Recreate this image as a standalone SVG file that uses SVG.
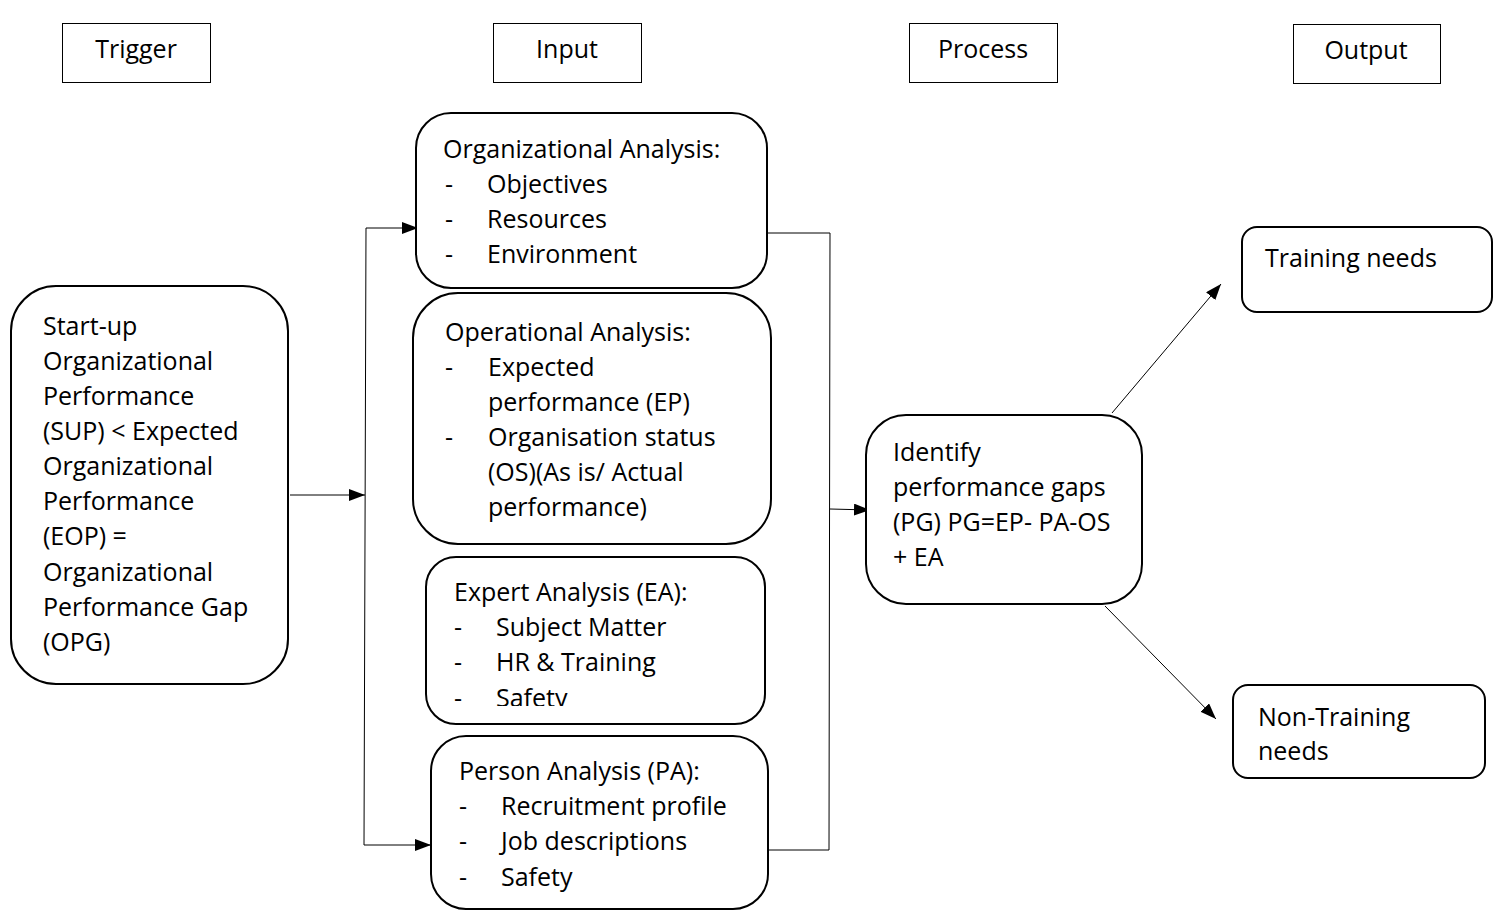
<svg xmlns="http://www.w3.org/2000/svg" width="1494" height="916" viewBox="0 0 1494 916">
<style>
text{font-family:"Open Sans",Lato,"Liberation Sans",sans-serif;font-size:25px;fill:#000}
.hdr{fill:#fff;stroke:#000;stroke-width:1}
.node{fill:#fff;stroke:#000;stroke-width:2}
.c{fill:none;stroke:#000;stroke-width:1}
.ctr{text-anchor:middle}
</style>
<defs>
<marker id="ah" markerWidth="16" markerHeight="12" refX="16" refY="6" orient="auto" markerUnits="userSpaceOnUse">
<path d="M0,0 L16,6 L0,12 Z" fill="#000"/>
</marker>
<clipPath id="clipEA"><rect x="426" y="557" width="340" height="149"/></clipPath>
</defs>
<rect width="1494" height="916" fill="#fff"/>

<g id="hdr-trigger"><rect class="hdr" x="62.5" y="23.5" width="148" height="59"/><text class="ctr" x="136" y="58">Trigger</text></g>
<g id="hdr-input"><rect class="hdr" x="493.5" y="23.5" width="148" height="59"/><text class="ctr" x="567" y="58">Input</text></g>
<g id="hdr-process"><rect class="hdr" x="909.5" y="23.5" width="148" height="59"/><text class="ctr" x="983" y="58">Process</text></g>
<g id="hdr-output"><rect class="hdr" x="1293.5" y="24.5" width="147" height="59"/><text class="ctr" x="1366" y="59">Output</text></g>

<g id="connectors">
<line class="c" x1="290" y1="495" x2="365" y2="495" marker-end="url(#ah)"/>
<line class="c" x1="366" y1="228" x2="364" y2="845"/>
<line class="c" x1="366" y1="228" x2="418" y2="228" marker-end="url(#ah)"/>
<line class="c" x1="364" y1="845" x2="431" y2="845" marker-end="url(#ah)"/>
<polyline class="c" points="767,233 830,233 829,850 768,850"/>
<line class="c" x1="830" y1="509" x2="870" y2="510" marker-end="url(#ah)"/>
<line class="c" x1="1112" y1="413" x2="1221" y2="284" marker-end="url(#ah)"/>
<line class="c" x1="1105" y1="606" x2="1216" y2="719" marker-end="url(#ah)"/>
</g>

<g id="trigger">
<rect class="node" x="11" y="286" width="277" height="398" rx="45"/>
<text x="43" y="335">Start-up</text>
<text x="43" y="370">Organizational</text>
<text x="43" y="405">Performance</text>
<text x="43" y="440">(SUP) &lt; Expected</text>
<text x="43" y="475">Organizational</text>
<text x="43" y="510">Performance</text>
<text x="43" y="545">(EOP) =</text>
<text x="43" y="581">Organizational</text>
<text x="43" y="616">Performance Gap</text>
<text x="43" y="651">(OPG)</text>
</g>

<g id="org-analysis">
<rect class="node" x="416" y="113" width="351" height="175" rx="35"/>
<text x="443" y="158">Organizational Analysis:</text>
<text x="445" y="193">-</text><text x="487" y="193">Objectives</text>
<text x="445" y="228">-</text><text x="487" y="228">Resources</text>
<text x="445" y="263">-</text><text x="487" y="263">Environment</text>
</g>

<g id="op-analysis">
<rect class="node" x="413" y="293" width="358" height="251" rx="45"/>
<text x="445" y="341">Operational Analysis:</text>
<text x="445" y="376">-</text><text x="488" y="376">Expected</text>
<text x="488" y="411">performance (EP)</text>
<text x="445" y="446">-</text><text x="488" y="446">Organisation status</text>
<text x="488" y="481">(OS)(As is/ Actual</text>
<text x="488" y="516">performance)</text>
</g>

<g id="expert-analysis">
<rect class="node" x="426" y="557" width="339" height="167" rx="30"/>
<g clip-path="url(#clipEA)">
<text x="454" y="601">Expert Analysis (EA):</text>
<text x="454" y="636">-</text><text x="496" y="636">Subject Matter</text>
<text x="454" y="671">-</text><text x="496" y="671">HR &amp; Training</text>
<text x="454" y="707">-</text><text x="496" y="707">Safety</text>
</g>
</g>

<g id="person-analysis">
<rect class="node" x="431" y="736" width="337" height="173" rx="35"/>
<text x="459" y="780">Person Analysis (PA):</text>
<text x="459" y="815">-</text><text x="501" y="815">Recruitment profile</text>
<text x="459" y="850">-</text><text x="501" y="850">Job descriptions</text>
<text x="459" y="886">-</text><text x="501" y="886">Safety</text>
</g>

<g id="process">
<rect class="node" x="866" y="415" width="276" height="189" rx="40"/>
<text x="893" y="461">Identify</text>
<text x="893" y="496">performance gaps</text>
<text x="893" y="531">(PG) PG=EP- PA-OS</text>
<text x="893" y="566">+ EA</text>
</g>

<g id="training">
<rect class="node" x="1242" y="227" width="250" height="85" rx="15"/>
<text x="1265" y="267">Training needs</text>
</g>

<g id="non-training">
<rect class="node" x="1233" y="685" width="252" height="93" rx="15"/>
<text x="1258" y="726">Non-Training</text>
<text x="1258" y="760">needs</text>
</g>
</svg>
